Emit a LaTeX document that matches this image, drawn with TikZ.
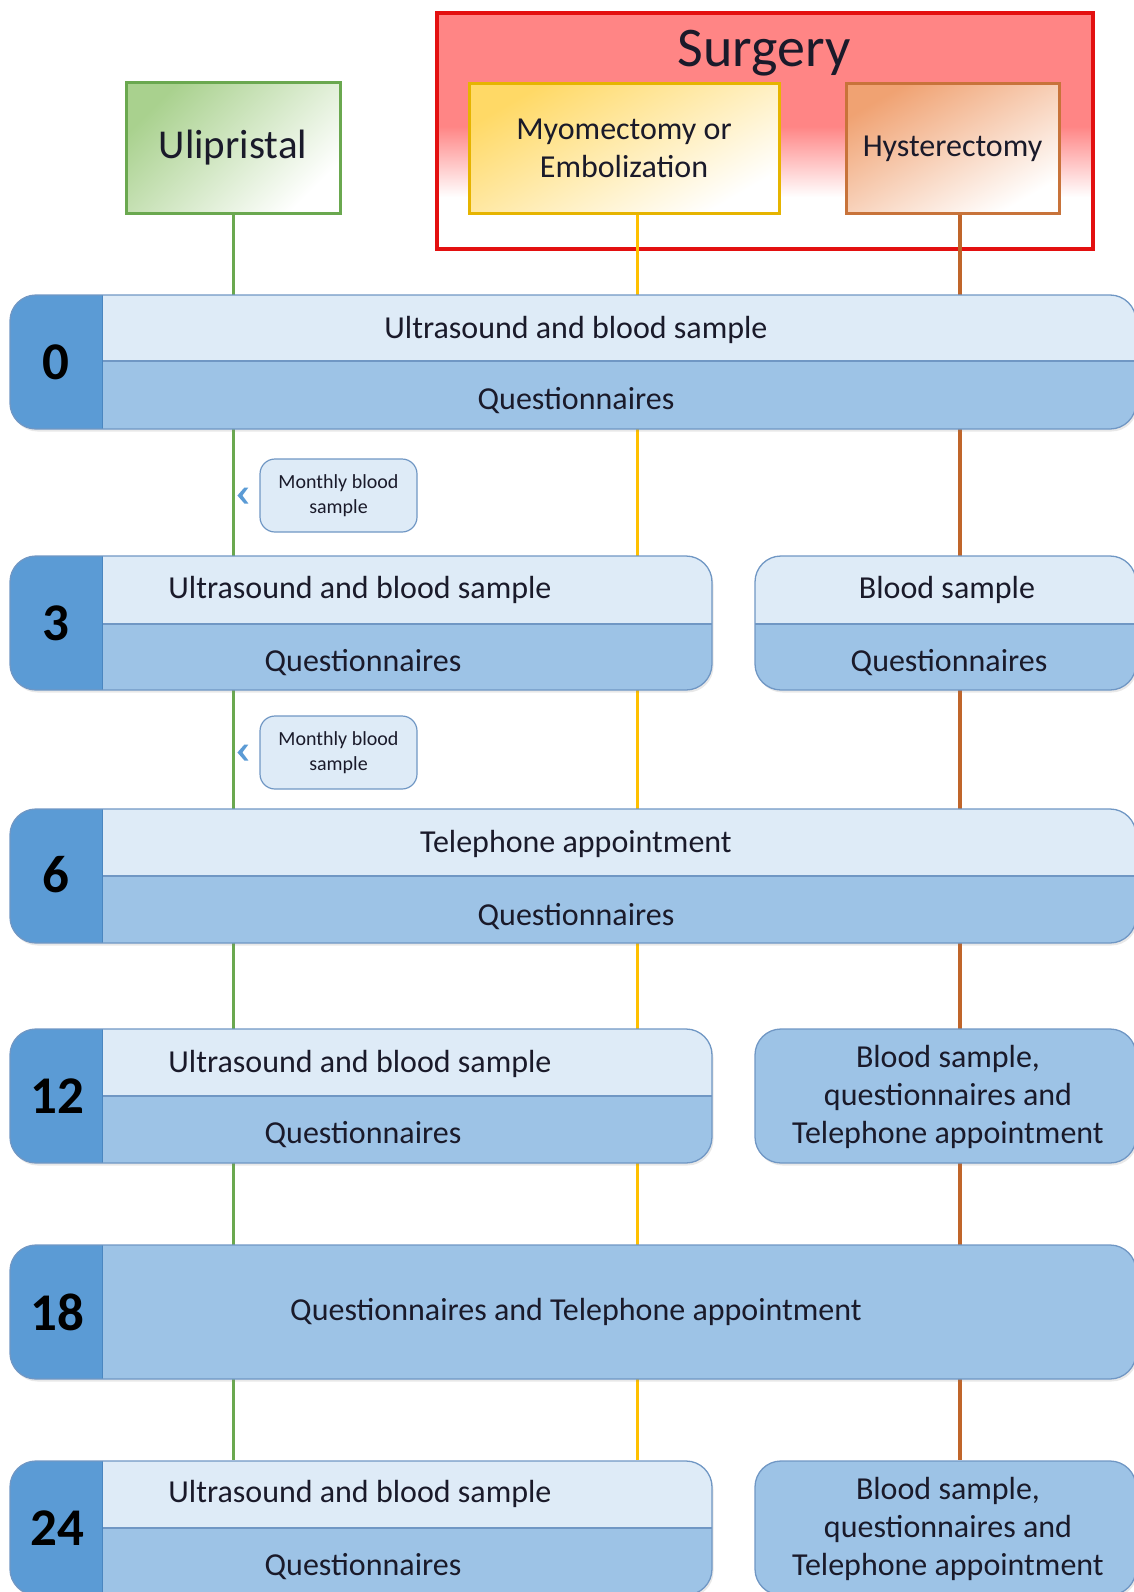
\documentclass[tikz,border=0pt]{standalone}
\usepackage{fontspec}
\setmainfont{Carlito}
\usetikzlibrary{shadows,calc}
\definecolor{lightblue}{HTML}{DEEBF7}
\definecolor{midblue}{HTML}{9DC3E6}
\definecolor{tabblue}{HTML}{5B9BD5}
\definecolor{tabedge}{HTML}{4A86C0}
\definecolor{rowline}{HTML}{7097C4}
\definecolor{txt}{HTML}{1A1A2A}
\definecolor{ggreen}{HTML}{6AA84F}
\definecolor{glight}{HTML}{A9D18E}
\definecolor{ygold}{HTML}{E6B400}
\definecolor{ylight}{HTML}{FFD966}
\definecolor{ylinec}{HTML}{FFC000}
\definecolor{bbrown}{HTML}{C8733A}
\definecolor{blight}{HTML}{F0A272}
\definecolor{blinec}{HTML}{C0652A}
\definecolor{sred}{HTML}{E31010}
\definecolor{spink}{HTML}{FF8585}
\pgfdeclareverticalshading{surgshade}{100bp}{color(0bp)=(white); color(36bp)=(white); color(51bp)=(spink); color(100bp)=(spink)}
\pgfdeclarelayer{bg}\pgfdeclarelayer{mid}\pgfsetlayers{bg,mid,main}
\newcommand\rowtopfill[1]{%
 \fill[lightblue,sharp corners] (path picture bounding box.north west) rectangle ([yshift=-#1]path picture bounding box.north east);
 \draw[rowline,line width=1.3pt,sharp corners] ([yshift=-#1]path picture bounding box.north west) -- ([yshift=-#1]path picture bounding box.north east);}
\newcommand\rowtabfill{%
 \fill[tabblue,sharp corners] (path picture bounding box.north west) rectangle ([xshift=92pt]path picture bounding box.south west);
 \draw[tabedge,line width=1pt,sharp corners] ([xshift=92pt]path picture bounding box.north west) -- ([xshift=92pt]path picture bounding box.south west);}
\begin{document}
\begin{tikzpicture}[x=1pt,y=-1pt,
  topbox/.style={line width=3pt, inner sep=0pt, align=center, text=txt,
    font=\fontsize{32pt}{38pt}\selectfont},
  rowbox/.style={draw=rowline, line width=1.3pt, rounded corners=26pt, fill=midblue,
    inner sep=0pt, minimum height=134pt,
    drop shadow={opacity=0.18, shadow xshift=1.5pt, shadow yshift=-2.5pt}},
  tabtop/.style={path picture={\rowtopfill{#1}\rowtabfill}},
  tabonly/.style={path picture={\rowtabfill}},
  toponly/.style={path picture={\rowtopfill{#1}}},
  rowtxt/.style={inner sep=0pt, text=txt, align=center, font=\fontsize{32pt}{38pt}\selectfont},
  numtxt/.style={inner sep=0pt, text=black, font=\fontsize{53pt}{60pt}\selectfont\bfseries},
  monthly/.style={draw=rowline, line width=1.2pt, fill=lightblue, rounded corners=15pt,
    minimum width=157pt, minimum height=73pt, inner sep=0pt, align=center, text=txt,
    font=\fontsize{20pt}{24.5pt}\selectfont},
  chev/.style={fill=tabblue},
  gline/.style={ggreen, line width=3pt},
  yline/.style={ylinec, line width=3pt},
  bline/.style={blinec, line width=3.2pt}
]
\useasboundingbox (0,0) rectangle (1134,1592);

% Surgery group
\begin{pgfonlayer}{bg}
\node[draw=sred, line width=4pt, shade, shading=surgshade, minimum width=656pt, minimum height=236pt, inner sep=0pt] (surgery) at (765,131) {};
\end{pgfonlayer}
\node[inner sep=0pt, text=txt, font=\fontsize{56pt}{60pt}\selectfont] (surglbl) at (764,53) {Surgery};

% Top boxes
\node[topbox, draw=ggreen, top color=glight, bottom color=white, shading angle=45,
  minimum width=214pt, minimum height=130pt, font=\fontsize{41pt}{44pt}\selectfont] (ulip) at (233,148) {Ulipristal};
\node[topbox, draw=ygold, top color=ylight, bottom color=white, shading angle=30,
  minimum width=310pt, minimum height=129pt] (myo) at (624,148.5) {Myomectomy or\\Embolization};
\node[topbox, draw=bbrown, top color=blight, bottom color=white, shading angle=30,
  minimum width=213pt, minimum height=129pt] (hyst) at (952.5,148.5) {Hysterectomy};

% Rows
\node[rowbox, tabtop=66pt, minimum width=1126pt] (r0) at (573,362) {};
\node[rowbox, tabtop=68pt, minimum width=702pt] (r3L) at (361,623) {};
\node[rowbox, toponly=68pt, minimum width=381pt] (r3R) at (945.5,623) {};
\node[rowbox, tabtop=67pt, minimum width=1126pt] (r6) at (573,876) {};
\node[rowbox, tabtop=67pt, minimum width=702pt] (r12L) at (361,1096) {};
\node[rowbox, minimum width=381pt] (r12R) at (945.5,1096) {};
\node[rowbox, tabonly, minimum width=1126pt] (r18) at (573,1312) {};
\node[rowbox, tabtop=67pt, minimum width=702pt] (r24L) at (361,1528) {};
\node[rowbox, minimum width=381pt] (r24R) at (945.5,1528) {};

% Numbers
\node[numtxt] (n0) at (56,362) {0};
\node[numtxt] (n3) at (56,623) {3};
\node[numtxt] (n6) at (56,875) {6};
\node[numtxt] (n12) at (57,1096) {12};
\node[numtxt] (n18) at (57,1312) {18};
\node[numtxt] (n24) at (57,1528) {24};

% Row texts
\node[rowtxt] (t0a) at (576,330) {Ultrasound and blood sample};
\node[rowtxt] (t0b) at (576,401) {Questionnaires};
\node[rowtxt] (t3a) at (360,590) {Ultrasound and blood sample};
\node[rowtxt] (t3b) at (363,663) {Questionnaires};
\node[rowtxt] (t3c) at (947,590) {Blood sample};
\node[rowtxt] (t3d) at (949,663) {Questionnaires};
\node[rowtxt] (t6a) at (576,844) {Telephone appointment};
\node[rowtxt] (t6b) at (576,917) {Questionnaires};
\node[rowtxt] (t12a) at (360,1064) {Ultrasound and blood sample};
\node[rowtxt] (t12b) at (363,1135) {Questionnaires};
\node[rowtxt] (t12c) at (948,1097) {Blood sample,\\questionnaires and\\Telephone appointment};
\node[rowtxt] (t18) at (576,1312) {Questionnaires and Telephone appointment};
\node[rowtxt] (t24a) at (360,1494) {Ultrasound and blood sample};
\node[rowtxt] (t24b) at (363,1567) {Questionnaires};
\node[rowtxt] (t24c) at (948,1529) {Blood sample,\\questionnaires and\\Telephone appointment};

% Monthly blood sample notes
\node[monthly] (m1) at (338.5,495.5) {Monthly blood\\sample};
\node[monthly] (m2) at (338.5,752.5) {Monthly blood\\sample};
\fill[chev] ($(m1.west)+(-22,0)$) -- ++(7,-8) -- ++(4,0) -- ++(-6,8) -- ++(6,8) -- ++(-4,0) -- cycle;
\fill[chev] ($(m2.west)+(-22,0)$) -- ++(7,-8) -- ++(4,0) -- ++(-6,8) -- ++(6,8) -- ++(-4,0) -- cycle;

% Vertical connectors
\begin{pgfonlayer}{mid}
\draw[gline] (ulip.south) -- (ulip.south |- r24L.north);
\draw[yline] ([xshift=13pt]myo.south) -- ([xshift=13pt]myo.south |- r24L.north);
\draw[bline] ([xshift=7.5pt]hyst.south) -- ([xshift=7.5pt]hyst.south |- r24R.north);
\end{pgfonlayer}
\end{tikzpicture}
\end{document}
